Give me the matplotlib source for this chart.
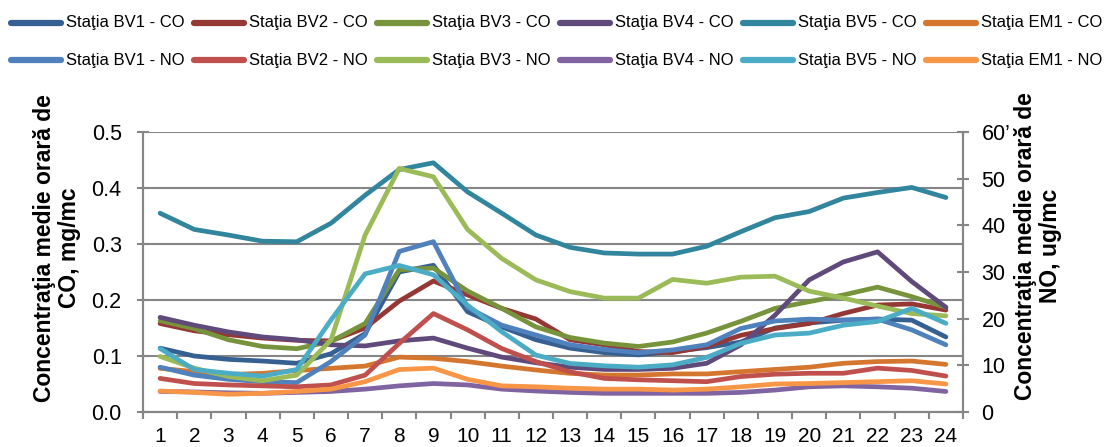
import matplotlib
matplotlib.use("Agg")
import matplotlib.pyplot as plt
from matplotlib.lines import Line2D

plt.rcParams['font.family'] = ['Liberation Sans', 'DejaVu Sans']

hours = list(range(1, 25))

# CO, mg/mc (left axis)
bv1_co = [0.114, 0.100, 0.094, 0.091, 0.087, 0.104, 0.140, 0.250, 0.262, 0.179, 0.152, 0.129,
          0.114, 0.106, 0.102, 0.108, 0.115, 0.125, 0.150, 0.159, 0.164, 0.166, 0.164, 0.134]
bv2_co = [0.158, 0.145, 0.138, 0.132, 0.128, 0.127, 0.150, 0.198, 0.234, 0.209, 0.185, 0.166,
          0.129, 0.120, 0.108, 0.106, 0.117, 0.137, 0.149, 0.158, 0.176, 0.191, 0.193, 0.182]
bv3_co = [0.163, 0.149, 0.129, 0.117, 0.113, 0.126, 0.158, 0.254, 0.257, 0.216, 0.185, 0.152,
          0.133, 0.123, 0.117, 0.125, 0.141, 0.162, 0.185, 0.197, 0.209, 0.223, 0.206, 0.187]
bv4_co = [0.169, 0.155, 0.143, 0.134, 0.129, 0.120, 0.118, 0.127, 0.132, 0.114, 0.098, 0.088,
          0.080, 0.076, 0.076, 0.078, 0.087, 0.120, 0.173, 0.236, 0.268, 0.286, 0.233, 0.187]
bv5_co = [0.355, 0.326, 0.316, 0.305, 0.304, 0.337, 0.387, 0.433, 0.445, 0.393, 0.355, 0.316,
          0.294, 0.284, 0.282, 0.282, 0.296, 0.322, 0.347, 0.358, 0.382, 0.392, 0.401, 0.383]
em1_co = [0.078, 0.072, 0.067, 0.069, 0.074, 0.078, 0.082, 0.098, 0.096, 0.090, 0.082, 0.075,
          0.069, 0.066, 0.066, 0.068, 0.068, 0.072, 0.076, 0.080, 0.087, 0.090, 0.091, 0.085]

# NO, ug/mc (right axis)
bv1_no = [9.6, 7.9, 7.0, 6.5, 6.3, 10.8, 16.5, 34.4, 36.5, 22.4, 18.6, 16.5,
          14.4, 13.4, 12.7, 13.3, 14.4, 17.9, 19.5, 19.9, 19.7, 19.9, 17.6, 14.4]
bv2_no = [7.2, 6.1, 5.8, 5.6, 5.4, 5.8, 7.9, 14.7, 21.1, 17.6, 13.6, 10.8,
          8.6, 7.2, 6.9, 6.7, 6.5, 7.6, 8.1, 8.3, 8.3, 9.4, 8.9, 7.7]
bv3_no = [11.9, 9.4, 7.6, 6.7, 7.9, 15.4, 37.9, 52.2, 50.4, 39.1, 32.9, 28.3,
          25.8, 24.4, 24.4, 28.4, 27.6, 28.9, 29.1, 25.9, 24.4, 22.7, 21.1, 20.6]
bv4_no = [4.4, 4.3, 4.1, 4.0, 4.2, 4.4, 4.9, 5.6, 6.1, 5.8, 4.9, 4.5,
          4.2, 4.0, 4.0, 4.0, 4.0, 4.2, 4.7, 5.4, 5.6, 5.4, 5.1, 4.4]
bv5_no = [13.6, 9.1, 8.3, 7.7, 9.1, 19.7, 29.6, 31.4, 29.4, 22.9, 17.2, 12.2,
          10.4, 9.9, 9.6, 10.1, 11.7, 14.7, 16.5, 16.9, 18.6, 19.4, 22.2, 19.0]
em1_no = [4.5, 4.2, 3.8, 4.0, 4.4, 4.9, 6.5, 9.1, 9.4, 7.0, 5.6, 5.4,
          5.1, 4.9, 4.9, 4.7, 4.9, 5.4, 6.0, 6.1, 6.3, 6.5, 6.7, 6.0]

co_names = ['Staţia BV1 - CO', 'Staţia BV2 - CO', 'Staţia BV3 - CO',
            'Staţia BV4 - CO', 'Staţia BV5 - CO', 'Staţia EM1 - CO']
no_names = ['Staţia BV1 - NO', 'Staţia BV2 - NO', 'Staţia BV3 - NO',
            'Staţia BV4 - NO', 'Staţia BV5 - NO', 'Staţia EM1 - NO']
co_series = [bv1_co, bv2_co, bv3_co, bv4_co, bv5_co, em1_co]
no_series = [bv1_no, bv2_no, bv3_no, bv4_no, bv5_no, em1_no]
co_colors = ['#376092', '#953735', '#77933C', '#604A7B', '#31859C', '#D5762F']
no_colors = ['#4F81BD', '#C0504D', '#9BBB59', '#8064A2', '#4BACC6', '#F79646']

co_ticks = [0.0, 0.1, 0.2, 0.3, 0.4, 0.5]
no_ticks = [0, 10, 20, 30, 40, 50, 60]
no_ticklabels = ['0', '10', '20', '30', '40', '50', '60’']

W, H = 1105, 447
fig = plt.figure(figsize=(W / 100, H / 100), dpi=100)
ax = fig.add_axes([143 / W, 1 - 412 / H, 820 / W, 280 / H])
ax2 = ax.twinx()

gray = '#868686'
lw = 3.4

for vals, c in zip(co_series, co_colors):
    ax.plot(hours, vals, color=c, lw=lw, solid_capstyle='round', solid_joinstyle='round')
for vals, c in zip(no_series, no_colors):
    ax2.plot(hours, vals, color=c, lw=lw, solid_capstyle='round', solid_joinstyle='round')

ax.set_xlim(0.5, 24.5)
ax.set_ylim(0, 0.5)
ax2.set_ylim(0, 60)

ax.set_yticks(co_ticks)
ax.set_yticklabels(['%.1f' % v for v in co_ticks])
ax2.set_yticks(no_ticks)
ax2.set_yticklabels(no_ticklabels)

ax.set_xticks(hours)
ax.set_xticks([h - 0.5 for h in hours] + [24.5], minor=True)
ax.tick_params(axis='x', which='major', length=0, pad=10.5, labelsize=15)
ax.tick_params(axis='x', which='minor', length=5, width=1.5, color=gray, direction='out')
ax.tick_params(axis='y', length=8.6, width=1.5, color=gray, direction='inout', pad=11, labelsize=15.5)
ax2.tick_params(axis='y', length=8.6, width=1.5, color=gray, direction='inout', pad=9, labelsize=15.5)

ax.yaxis.grid(True, color=gray, lw=1.5)
ax.set_axisbelow(True)

for a in (ax, ax2):
    a.spines['top'].set_visible(False)
    for s in ('left', 'right', 'bottom'):
        a.spines[s].set_color(gray)
        a.spines[s].set_linewidth(1.5)

fig.text(57 / W, 1 - 248 / H, 'Concentraţia medie orară de\nCO, mg/mc', rotation=90,
         ha='center', va='center', multialignment='center', fontsize=16.5,
         fontweight='bold', linespacing=1.15)
fig.text(1038 / W, 1 - 246 / H, 'Concentraţia medie orară de\nNO, ug/mc', rotation=90,
         ha='center', va='center', multialignment='center', fontsize=16.5,
         fontweight='bold', linespacing=1.15)

# legend, two rows of six
rows = [(co_names, co_colors, 23), (no_names, no_colors, 60)]
for names, colors, ypix in rows:
    for i, (name, c) in enumerate(zip(names, colors)):
        x0 = 11 + 183 * i
        fig.add_artist(Line2D([x0 / W, (x0 + 50) / W], [1 - ypix / H] * 2,
                              transform=fig.transFigure, color=c, lw=4.5,
                              solid_capstyle='round'))
        fig.text((x0 + 55) / W, 1 - ypix / H, name, ha='left', va='center',
                 fontsize=12, family=['Liberation Sans Narrow', 'Liberation Sans'])

plt.savefig('out.png', dpi=100)
